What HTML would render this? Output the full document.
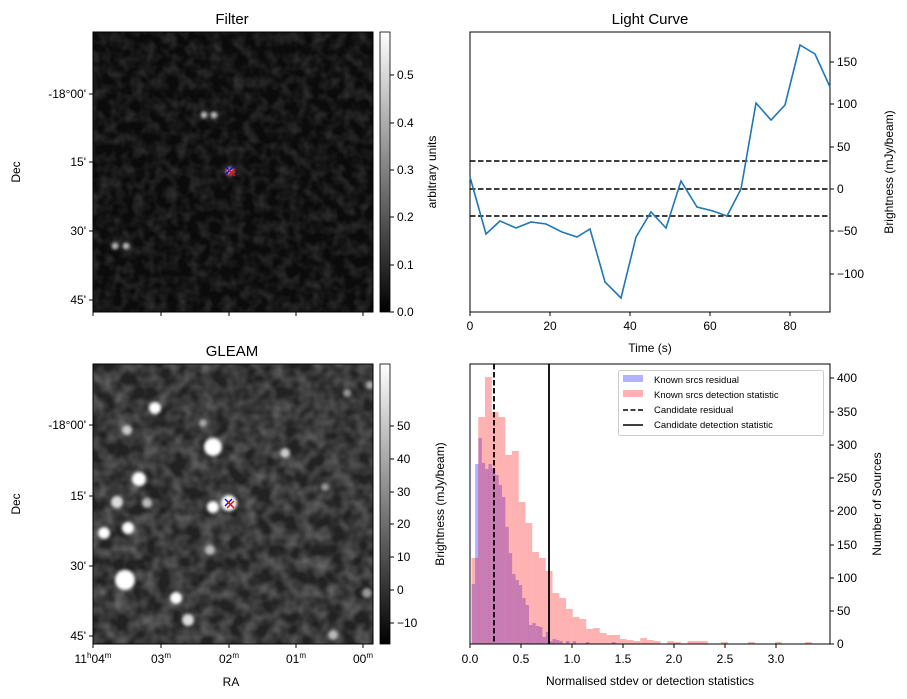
<!DOCTYPE html>
<html><head><meta charset="utf-8"><style>
html,body{margin:0;padding:0;background:#fff}
svg{display:block;font-family:"Liberation Sans","DejaVu Sans",sans-serif}
</style></head><body>
<svg width="907" height="699" viewBox="0 0 907 699" xmlns="http://www.w3.org/2000/svg">
<defs>
<filter id="noiseT" x="0" y="0" width="100%" height="100%">
<feTurbulence type="fractalNoise" baseFrequency="0.09" numOctaves="2" seed="3"/>
<feColorMatrix type="matrix" values="0 0 0 0 1  0 0 0 0 1  0 0 0 0 1  1.6 0 0 0 -0.55"/>
</filter>
<filter id="noiseB" x="0" y="0" width="100%" height="100%">
<feTurbulence type="fractalNoise" baseFrequency="0.07" numOctaves="2" seed="7"/>
<feColorMatrix type="matrix" values="0 0 0 0 1  0 0 0 0 1  0 0 0 0 1  1.5 0 0 0 -0.45"/>
</filter>
<filter id="bl" x="-1" y="-1" width="3" height="3"><feGaussianBlur stdDeviation="1.6"/></filter>
<linearGradient id="cb" x1="0" y1="0" x2="0" y2="1"><stop offset="0" stop-color="#fff"/><stop offset="1" stop-color="#000"/></linearGradient>
<clipPath id="c1"><rect x="93" y="32" width="280" height="280"/></clipPath>
<clipPath id="c2"><rect x="93" y="364" width="280" height="280"/></clipPath>
</defs>

<g clip-path="url(#c1)">
<rect x="93" y="32" width="280" height="280" fill="#0b0b0b"/>
<rect x="93" y="32" width="280" height="280" filter="url(#noiseT)" opacity="0.17"/>
<g fill="#bbb" filter="url(#bl)">
<circle cx="204" cy="115" r="3.5"/><circle cx="214" cy="115" r="3.5"/>
<circle cx="115" cy="246" r="3.5"/><circle cx="126" cy="246" r="3.5"/>
<circle cx="230" cy="171" r="4"/>
</g>
</g>
<rect x="93" y="32" width="280" height="280" fill="none" stroke="#000"/>
<g stroke="blue" stroke-width="1.3"><line x1="226" y1="167" x2="233" y2="174"/><line x1="233" y1="167" x2="226" y2="174"/></g>
<g stroke="red" stroke-width="1.3"><line x1="228" y1="169" x2="235" y2="176"/><line x1="235" y1="169" x2="228" y2="176"/></g>

<g clip-path="url(#c2)">
<rect x="93" y="364" width="280" height="280" fill="#222"/>
<rect x="93" y="364" width="280" height="280" filter="url(#noiseB)" opacity="0.35"/>
<g fill="#fff" filter="url(#bl)">
<circle cx="155" cy="408" r="6"/><circle cx="127" cy="430" r="5" fill="#ccc"/><circle cx="203" cy="423" r="4" fill="#aaa"/>
<circle cx="213" cy="447" r="9"/><circle cx="285" cy="453" r="5" fill="#ccc"/><circle cx="139" cy="479" r="7"/>
<circle cx="117" cy="502" r="6" fill="#ddd"/><circle cx="147" cy="503" r="5" fill="#bbb"/><circle cx="213" cy="507" r="6"/>
<circle cx="229" cy="503" r="8"/><circle cx="128" cy="528" r="6"/><circle cx="104" cy="533" r="6"/>
<circle cx="325" cy="487" r="4" fill="#999"/><circle cx="210" cy="550" r="5" fill="#bbb"/><circle cx="125" cy="580" r="10"/>
<circle cx="176" cy="598" r="6"/><circle cx="188" cy="620" r="6" fill="#ddd"/><circle cx="333" cy="635" r="5" fill="#bbb"/>
<circle cx="367" cy="593" r="5" fill="#999"/><circle cx="347" cy="393" r="4" fill="#999"/><circle cx="370" cy="385" r="4" fill="#aaa"/>
</g>
</g>
<rect x="93" y="364" width="280" height="280" fill="none" stroke="#000"/>
<g stroke="blue" stroke-width="1.3"><line x1="225" y1="499" x2="232" y2="506"/><line x1="232" y1="499" x2="225" y2="506"/></g>
<g stroke="red" stroke-width="1.3"><line x1="227" y1="501" x2="234" y2="508"/><line x1="234" y1="501" x2="227" y2="508"/></g>

<g stroke="#000">
<line x1="93" y1="94" x2="89" y2="94"/><line x1="93" y1="162" x2="89" y2="162"/><line x1="93" y1="231" x2="89" y2="231"/><line x1="93" y1="300" x2="89" y2="300"/>
<line x1="93" y1="425" x2="89" y2="425"/><line x1="93" y1="496" x2="89" y2="496"/><line x1="93" y1="566" x2="89" y2="566"/><line x1="93" y1="636" x2="89" y2="636"/>
<line x1="93" y1="312" x2="93" y2="316"/><line x1="161" y1="312" x2="161" y2="316"/><line x1="229" y1="312" x2="229" y2="316"/><line x1="296" y1="312" x2="296" y2="316"/><line x1="363" y1="312" x2="363" y2="316"/>
<line x1="93" y1="644" x2="93" y2="648"/><line x1="161" y1="644" x2="161" y2="648"/><line x1="229" y1="644" x2="229" y2="648"/><line x1="296" y1="644" x2="296" y2="648"/><line x1="363" y1="644" x2="363" y2="648"/>
</g>
<g font-size="12" text-anchor="end">
<text x="86" y="98">-18°00'</text><text x="86" y="166">15'</text><text x="86" y="235">30'</text><text x="86" y="304">45'</text>
<text x="86" y="429">-18°00'</text><text x="86" y="500">15'</text><text x="86" y="570">30'</text><text x="86" y="640">45'</text>
</g>
<g font-size="12" text-anchor="middle">
<text x="93" y="663">11<tspan font-size="8" dy="-5">h</tspan><tspan dy="5">04</tspan><tspan font-size="8" dy="-5">m</tspan></text>
<text x="161" y="663">03<tspan font-size="8" dy="-5">m</tspan></text>
<text x="229" y="663">02<tspan font-size="8" dy="-5">m</tspan></text>
<text x="296" y="663">01<tspan font-size="8" dy="-5">m</tspan></text>
<text x="363" y="663">00<tspan font-size="8" dy="-5">m</tspan></text>
<text x="231" y="686">RA</text>
<text x="20" y="172" transform="rotate(-90 20 172)">Dec</text>
<text x="20" y="504" transform="rotate(-90 20 504)">Dec</text>
</g>
<g font-size="15" text-anchor="middle"><text x="232" y="24">Filter</text><text x="232" y="356">GLEAM</text><text x="650" y="24">Light Curve</text></g>

<rect x="380" y="32" width="10" height="280" fill="url(#cb)" stroke="#000" stroke-width="0.8"/>
<rect x="380" y="364" width="10" height="280" fill="url(#cb)" stroke="#000" stroke-width="0.8"/>
<g stroke="#000">
<line x1="390" y1="312" x2="394" y2="312"/><line x1="390" y1="265" x2="394" y2="265"/><line x1="390" y1="217" x2="394" y2="217"/><line x1="390" y1="170" x2="394" y2="170"/><line x1="390" y1="123" x2="394" y2="123"/><line x1="390" y1="75" x2="394" y2="75"/>
<line x1="390" y1="623" x2="394" y2="623"/><line x1="390" y1="590" x2="394" y2="590"/><line x1="390" y1="557" x2="394" y2="557"/><line x1="390" y1="524" x2="394" y2="524"/><line x1="390" y1="492" x2="394" y2="492"/><line x1="390" y1="459" x2="394" y2="459"/><line x1="390" y1="426" x2="394" y2="426"/>
</g>
<g font-size="12">
<text x="397" y="316">0.0</text><text x="397" y="269">0.1</text><text x="397" y="221">0.2</text><text x="397" y="174">0.3</text><text x="397" y="127">0.4</text><text x="397" y="79">0.5</text>
<text x="397" y="627">−10</text><text x="397" y="594">0</text><text x="397" y="561">10</text><text x="397" y="528">20</text><text x="397" y="496">30</text><text x="397" y="463">40</text><text x="397" y="430">50</text>
</g>
<g font-size="12" text-anchor="middle">
<text x="436" y="172" transform="rotate(-90 436 172)">arbitrary units</text>
<text x="444" y="504" transform="rotate(-90 444 504)">Brightness (mJy/beam)</text>
<text x="893" y="172" transform="rotate(-90 893 172)">Brightness (mJy/beam)</text>
<text x="881" y="504" transform="rotate(-90 881 504)">Number of Sources</text>
<text x="650" y="352">Time (s)</text>
<text x="650" y="685">Normalised stdev or detection statistics</text>
</g>

<rect x="470" y="32" width="360" height="280" fill="none" stroke="#000"/>
<g stroke="#000" stroke-width="1.5" stroke-dasharray="5.5,2.5"><line x1="470" y1="161" x2="830" y2="161"/><line x1="470" y1="189" x2="830" y2="189"/><line x1="470" y1="216" x2="830" y2="216"/></g>
<polyline fill="none" stroke="#1f77b4" stroke-width="1.6" points="470,177 486,234 500,221 516,228 531,222 546,224 562,232 577,237 590,229 605,282 621,298 636,237 651,212 666,228 681,181 697,207 713,211 727,216 741,189 756,103 771,120 785,105 800,45 815,54 830,87"/>
<g stroke="#000">
<line x1="470" y1="312" x2="470" y2="316"/><line x1="550" y1="312" x2="550" y2="316"/><line x1="630" y1="312" x2="630" y2="316"/><line x1="710" y1="312" x2="710" y2="316"/><line x1="790" y1="312" x2="790" y2="316"/>
<line x1="830" y1="62" x2="834" y2="62"/><line x1="830" y1="104" x2="834" y2="104"/><line x1="830" y1="147" x2="834" y2="147"/><line x1="830" y1="189" x2="834" y2="189"/><line x1="830" y1="231" x2="834" y2="231"/><line x1="830" y1="274" x2="834" y2="274"/>
</g>
<g font-size="12" text-anchor="middle"><text x="470" y="330">0</text><text x="550" y="330">20</text><text x="630" y="330">40</text><text x="710" y="330">60</text><text x="790" y="330">80</text></g>
<g font-size="12"><text x="837" y="66">150</text><text x="837" y="108">100</text><text x="837" y="151">50</text><text x="837" y="193">0</text><text x="837" y="235">−50</text><text x="837" y="278">−100</text></g>

<g fill="#0000ff" fill-opacity="0.3">
<rect x="471.7" y="584" width="3.4" height="60"/><rect x="475.1" y="464" width="3.4" height="180"/><rect x="478.4" y="438" width="3.4" height="206"/><rect x="481.8" y="463" width="3.4" height="181"/><rect x="485.2" y="469" width="3.4" height="175"/><rect x="488.5" y="464" width="3.4" height="180"/><rect x="491.9" y="468" width="3.4" height="176"/><rect x="495.3" y="475" width="3.4" height="169"/><rect x="498.6" y="485" width="3.4" height="159"/><rect x="502" y="497" width="3.4" height="147"/><rect x="505.4" y="527" width="3.4" height="117"/><rect x="508.7" y="553" width="3.4" height="91"/><rect x="512.1" y="574" width="3.4" height="70"/><rect x="515.5" y="580" width="3.4" height="64"/><rect x="518.8" y="585" width="3.4" height="59"/><rect x="522.2" y="598" width="3.4" height="46"/><rect x="525.6" y="605" width="3.4" height="39"/><rect x="528.9" y="625" width="3.4" height="19"/><rect x="532.3" y="623" width="3.4" height="21"/><rect x="535.7" y="626" width="3.4" height="18"/><rect x="539" y="627" width="3.4" height="17"/><rect x="542.4" y="637" width="3.4" height="7"/><rect x="545.8" y="632" width="3.4" height="12"/><rect x="549.1" y="641" width="3.4" height="3"/><rect x="552.5" y="639" width="3.4" height="5"/><rect x="555.9" y="640" width="3.4" height="4"/><rect x="559.3" y="641" width="3.4" height="3"/><rect x="566" y="641" width="3.4" height="3"/><rect x="572.7" y="641" width="3.4" height="3"/><rect x="586" y="642" width="3.4" height="2"/><rect x="612" y="642" width="3.4" height="2"/>
</g>
<g fill="#ff0000" fill-opacity="0.3">
<rect x="471.5" y="558" width="6.75" height="86"/><rect x="478.25" y="417" width="6.75" height="227"/><rect x="485" y="377" width="6.75" height="267"/><rect x="491.75" y="412" width="6.75" height="232"/><rect x="498.5" y="417" width="6.75" height="227"/><rect x="505.25" y="455" width="6.75" height="189"/><rect x="512" y="451" width="6.75" height="193"/><rect x="518.75" y="502" width="6.75" height="142"/><rect x="525.5" y="523" width="6.75" height="121"/><rect x="532.25" y="552" width="6.75" height="92"/><rect x="539" y="558" width="6.75" height="86"/><rect x="545.75" y="571" width="6.75" height="73"/><rect x="552.5" y="593" width="6.75" height="51"/><rect x="559.25" y="598" width="6.75" height="46"/><rect x="566" y="609" width="6.75" height="35"/><rect x="572.75" y="617" width="6.75" height="27"/><rect x="579.5" y="619" width="6.75" height="25"/><rect x="586.25" y="629" width="6.75" height="15"/><rect x="593" y="628" width="6.75" height="16"/><rect x="599.75" y="633" width="6.75" height="11"/><rect x="606.5" y="635" width="6.75" height="9"/><rect x="613.25" y="635" width="6.75" height="9"/><rect x="620" y="639" width="6.75" height="5"/><rect x="626.75" y="640" width="6.75" height="4"/><rect x="633.5" y="641" width="6.75" height="3"/><rect x="640.25" y="638" width="6.75" height="6"/><rect x="647" y="640" width="6.75" height="4"/><rect x="653.75" y="641" width="6.75" height="3"/><rect x="667.25" y="641" width="6.75" height="3"/><rect x="674" y="642" width="6.75" height="2"/><rect x="687.5" y="641" width="6.75" height="3"/><rect x="694.25" y="641" width="6.75" height="3"/><rect x="701" y="641" width="6.75" height="3"/><rect x="721" y="642" width="6.75" height="2"/><rect x="748" y="642" width="6.75" height="2"/><rect x="775" y="642" width="6.75" height="2"/><rect x="805" y="642" width="6.75" height="2"/>
</g>
<line x1="494" y1="364" x2="494" y2="644" stroke="#000" stroke-width="1.8" stroke-dasharray="5.5,2.5"/>
<line x1="549" y1="364" x2="549" y2="644" stroke="#000" stroke-width="1.8"/>
<rect x="470" y="364" width="360" height="280" fill="none" stroke="#000"/>
<g stroke="#000">
<line x1="470" y1="644" x2="470" y2="648"/><line x1="521" y1="644" x2="521" y2="648"/><line x1="572" y1="644" x2="572" y2="648"/><line x1="623" y1="644" x2="623" y2="648"/><line x1="674" y1="644" x2="674" y2="648"/><line x1="725" y1="644" x2="725" y2="648"/><line x1="776" y1="644" x2="776" y2="648"/>
<line x1="830" y1="644" x2="834" y2="644"/><line x1="830" y1="611" x2="834" y2="611"/><line x1="830" y1="578" x2="834" y2="578"/><line x1="830" y1="545" x2="834" y2="545"/><line x1="830" y1="511" x2="834" y2="511"/><line x1="830" y1="478" x2="834" y2="478"/><line x1="830" y1="445" x2="834" y2="445"/><line x1="830" y1="412" x2="834" y2="412"/><line x1="830" y1="378" x2="834" y2="378"/>
</g>
<g font-size="12" text-anchor="middle"><text x="470" y="663">0.0</text><text x="521" y="663">0.5</text><text x="572" y="663">1.0</text><text x="623" y="663">1.5</text><text x="674" y="663">2.0</text><text x="725" y="663">2.5</text><text x="776" y="663">3.0</text></g>
<g font-size="12"><text x="837" y="648">0</text><text x="837" y="615">50</text><text x="837" y="582">100</text><text x="837" y="549">150</text><text x="837" y="515">200</text><text x="837" y="482">250</text><text x="837" y="449">300</text><text x="837" y="416">350</text><text x="837" y="382">400</text></g>
<rect x="618.5" y="370.5" width="205" height="65" rx="2" fill="#fff" fill-opacity="0.8" stroke="#ccc"/>
<rect x="623" y="375" width="20" height="7" fill="#0000ff" fill-opacity="0.3"/>
<rect x="623" y="390" width="20" height="7" fill="#ff0000" fill-opacity="0.3"/>
<line x1="623" y1="410" x2="643" y2="410" stroke="#000" stroke-width="1.5" stroke-dasharray="5,2.5"/>
<line x1="623" y1="425" x2="643" y2="425" stroke="#000" stroke-width="1.5"/>
<g font-size="9.5"><text x="654" y="383">Known srcs residual</text><text x="654" y="398">Known srcs detection statistic</text><text x="654" y="413">Candidate residual</text><text x="654" y="428">Candidate detection statistic</text></g>
</svg>
</body></html>
